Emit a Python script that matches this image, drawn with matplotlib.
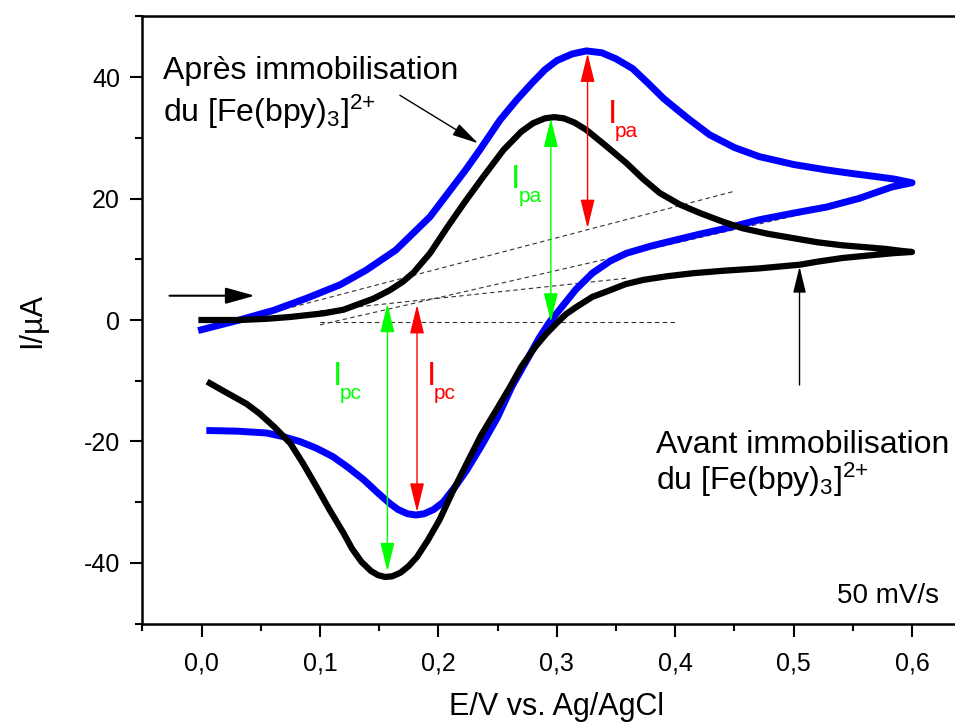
import matplotlib
matplotlib.use("Agg")
import matplotlib.pyplot as plt
from matplotlib.ticker import MultipleLocator, FuncFormatter

plt.rcParams["font.family"] = ["Liberation Sans", "DejaVu Sans"]
plt.rcParams["mathtext.fontset"] = "custom"
plt.rcParams["mathtext.rm"] = "Liberation Sans"
plt.rcParams["mathtext.default"] = "regular"
plt.rcParams["axes.unicode_minus"] = False

# after immobilisation (blue), forward then reverse scan
e_blue = [0.000, 0.032, 0.061, 0.089, 0.117, 0.139, 0.164, 0.193, 0.223, 0.235,
          0.252, 0.266, 0.279, 0.290, 0.300, 0.313, 0.325, 0.338, 0.350, 0.364,
          0.377, 0.390, 0.410, 0.429, 0.450, 0.471, 0.500, 0.528, 0.550, 0.570,
          0.585, 0.600,
          0.583, 0.555, 0.528, 0.500, 0.471, 0.443, 0.420, 0.401, 0.380, 0.359,
          0.345, 0.330, 0.316, 0.302, 0.294, 0.285, 0.275, 0.262, 0.250, 0.237,
          0.224, 0.214, 0.204, 0.196, 0.188, 0.181, 0.174, 0.166, 0.159, 0.148,
          0.137, 0.124, 0.111, 0.097, 0.083, 0.069, 0.055, 0.030, 0.007]
i_blue = [-1.6, 0.0, 1.6, 3.6, 5.8, 8.2, 11.5, 17.0, 24.7, 28.0,
          32.9, 36.2, 39.0, 41.2, 42.7, 43.8, 44.3, 44.0, 43.0, 41.4,
          39.0, 36.5, 33.3, 30.5, 28.4, 26.9, 25.6, 24.7, 24.1, 23.6,
          23.2, 22.6,
          21.9, 20.0, 18.6, 17.6, 16.5, 15.1, 14.1, 13.2, 12.2, 11.0,
          9.7, 7.7, 5.0, 1.6, -0.3, -3.0, -6.5, -11.0, -16.0, -20.5,
          -24.7, -27.5, -30.0, -31.2, -31.9, -32.1, -31.9, -31.2, -30.2, -28.3,
          -26.3, -24.3, -22.5, -21.1, -20.0, -19.2, -18.6, -18.3, -18.2]

# before immobilisation (black)
e_black = [0.000, 0.032, 0.055, 0.075, 0.103, 0.120, 0.131, 0.145, 0.159, 0.170,
           0.179, 0.193, 0.208, 0.223, 0.238, 0.255, 0.270, 0.280, 0.290, 0.298,
           0.306, 0.315, 0.325, 0.342, 0.359, 0.373, 0.387, 0.404, 0.421, 0.440,
           0.457, 0.478, 0.499, 0.520, 0.541, 0.560, 0.578, 0.590, 0.600,
           0.584, 0.562, 0.541, 0.520, 0.505, 0.471, 0.440, 0.415, 0.393, 0.373,
           0.358, 0.345, 0.330, 0.317, 0.308, 0.300, 0.291, 0.282, 0.270, 0.260,
           0.249, 0.236, 0.224, 0.212, 0.201, 0.191, 0.182, 0.175, 0.168, 0.161,
           0.155, 0.149, 0.143, 0.135, 0.127, 0.120, 0.108, 0.097, 0.086, 0.075,
           0.062, 0.049, 0.038, 0.027, 0.016, 0.007]
i_black = [0.0, 0.0, 0.2, 0.5, 1.1, 1.7, 2.5, 3.5, 4.9, 6.3,
           7.8, 11.0, 15.4, 19.6, 23.6, 28.0, 31.0, 32.4, 33.2, 33.4,
           33.2, 32.5, 31.3, 28.6, 25.8, 23.2, 20.9, 19.0, 17.6, 16.2,
           15.1, 14.2, 13.5, 12.8, 12.3, 12.0, 11.7, 11.4, 11.2,
           11.0, 10.6, 10.2, 9.6, 9.1, 8.5, 8.1, 7.7, 7.2, 6.6,
           5.9, 4.9, 3.8, 2.2, 1.0, -0.5, -2.3, -4.4, -7.7, -11.2,
           -14.8, -19.0, -23.6, -28.3, -32.9, -36.3, -39.0, -40.5, -41.6, -42.2,
           -42.3, -42.0, -41.3, -39.8, -37.6, -35.1, -31.2, -27.4, -23.7, -20.3,
           -17.7, -15.4, -13.8, -12.6, -11.4, -10.4]

# dashed baselines: (e0, i0, e1, i1)
baselines = [
    (0.000, -1.8, 0.450, 21.2),
    (0.100, -0.8, 0.560, 19.8),
    (0.100, 1.5, 0.360, 6.9),
    (0.100, -0.3, 0.400, -0.3),
]

# peak current arrows: (e, i_top, i_bottom, colour)
peak_arrows = [
    (0.326, 43.9, 15.1, "#ff0000"),
    (0.295, 33.2, -0.3, "#00ff00"),
    (0.182, 2.5, -31.6, "#ff0000"),
    (0.157, 2.7, -41.4, "#00ff00"),
]
# peak labels: (e, i of baseline, subscript, colour)
peak_labels = [
    (0.343, 32.4, "pa", "#ff0000"),
    (0.2615, 21.7, "pa", "#00ff00"),
    (0.111, -10.7, "pc", "#00ff00"),
    (0.190, -10.7, "pc", "#ff0000"),
]

fig = plt.figure(figsize=(9.55, 7.24), dpi=100)
ax = fig.add_axes([0.149, 0.1385, 0.868, 0.839])

for e0, i0, e1, i1 in baselines:
    ax.plot([e0, e1], [i0, i1], ls=(0, (4, 3)), color="#333333", lw=0.8)

ax.plot(e_blue, i_blue, color="#0000ff", lw=5, solid_joinstyle="round")
ax.plot(e_black, i_black, color="black", lw=4.5, solid_joinstyle="round")

for e, top, bot, c in peak_arrows:
    ax.annotate("", xy=(e, bot), xytext=(e, top),
                arrowprops=dict(arrowstyle="<|-|>,head_length=0.9,head_width=0.22",
                                color=c, lw=1, shrinkA=0, shrinkB=0, mutation_scale=20))
for e, i, sub, c in peak_labels:
    ax.text(e, i, "I", color=c, fontsize=24, ha="left", va="baseline")
    ax.text(e + 0.006, i - 2.3, sub, color=c, fontsize=15, ha="left", va="baseline")

# scan direction and label pointers
ax.annotate("", xy=(0.045, 4.0), xytext=(-0.027, 4.0), annotation_clip=False,
            arrowprops=dict(arrowstyle="-|>,head_length=0.9,head_width=0.25",
                            color="black", lw=1.5, shrinkA=0, shrinkB=0, mutation_scale=20))
ax.annotate("", xy=(0.2336, 29.1), xytext=(0.1675, 37.0),
            arrowprops=dict(arrowstyle="-|>,head_length=0.9,head_width=0.22",
                            color="black", lw=1, shrinkA=0, shrinkB=0, mutation_scale=18))
ax.annotate("", xy=(0.505, 8.8), xytext=(0.505, -10.7),
            arrowprops=dict(arrowstyle="-|>,head_length=0.9,head_width=0.22",
                            color="black", lw=1, shrinkA=0, shrinkB=0, mutation_scale=18))

fe = "du [Fe(bpy)$_3$]$^{\\text{2+}}$"
ax.text(-0.0325, 39.6, "Après immobilisation", fontsize=23, va="baseline")
ax.text(-0.0325, 32.6, fe, fontsize=23, va="baseline")
ax.text(0.384, -21.9, "Avant immobilisation", fontsize=23, va="baseline")
ax.text(0.384, -28.0, fe, fontsize=23, va="baseline")
ax.text(0.623, -46.6, "50 mV/s", fontsize=20, ha="right", va="baseline")

ax.set_xlim(-0.05, 0.65)
ax.set_ylim(-50, 50)
ax.xaxis.set_major_locator(MultipleLocator(0.1))
ax.xaxis.set_minor_locator(MultipleLocator(0.05))
ax.yaxis.set_major_locator(MultipleLocator(20))
ax.yaxis.set_minor_locator(MultipleLocator(10))
ax.xaxis.set_major_formatter(FuncFormatter(lambda v, p: f"{v:.1f}".replace(".", ",")))
ax.yaxis.set_major_formatter(FuncFormatter(lambda v, p: f"{v:.0f}"))

for s in ["left", "bottom", "top"]:
    ax.spines[s].set_linewidth(1.8)
ax.spines["right"].set_visible(False)
ax.tick_params(which="major", direction="out", length=9, width=1.5, labelsize=18, pad=7)
ax.tick_params(which="minor", direction="out", length=5, width=1.5)
ax.tick_params(axis="x", pad=11)

ax.set_xlabel("E/V vs. Ag/AgCl", fontsize=22, labelpad=12)
ax.set_ylabel("I/µA", fontsize=22, labelpad=26)

fig.savefig("out.png", dpi=100)
